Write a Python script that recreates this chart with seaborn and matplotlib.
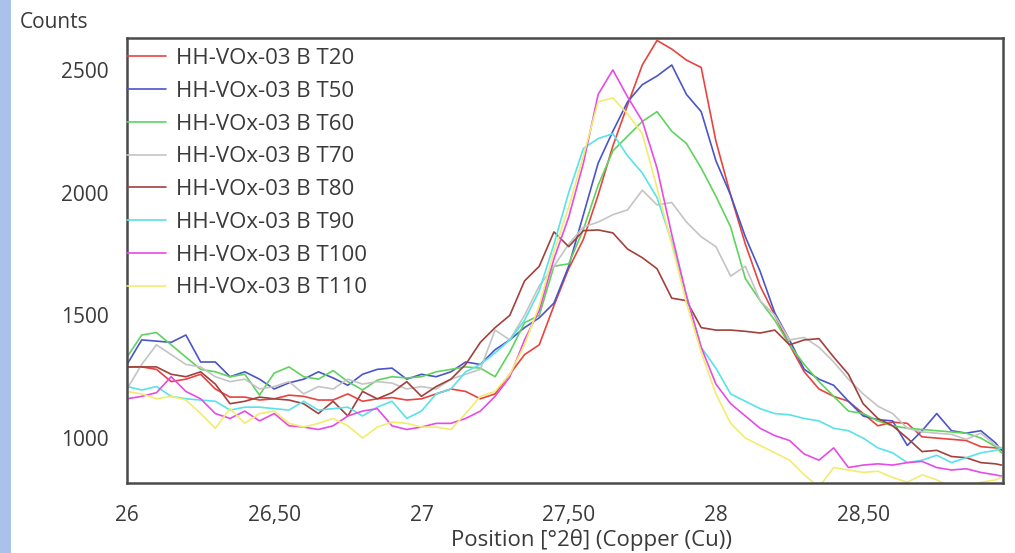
import numpy as np
import pandas as pd
import matplotlib
matplotlib.use('Agg')
import matplotlib.pyplot as plt
import seaborn as sns
from matplotlib.patches import Rectangle

# DATA
position = [26.00, 26.05, 26.10, 26.15, 26.20, 26.25, 26.30, 26.35, 26.40, 26.45,
            26.50, 26.55, 26.60, 26.65, 26.70, 26.75, 26.80, 26.85, 26.90, 26.95,
            27.00, 27.05, 27.10, 27.15, 27.20, 27.25, 27.30, 27.35, 27.40, 27.45,
            27.50, 27.55, 27.60, 27.65, 27.70, 27.75, 27.80, 27.85, 27.90, 27.95,
            28.00, 28.05, 28.10, 28.15, 28.20, 28.25, 28.30, 28.35, 28.40, 28.45,
            28.50, 28.55, 28.60, 28.65, 28.70, 28.75, 28.80, 28.85, 28.90, 28.95,
            28.97]

t20 = [1290, 1290, 1280, 1230, 1240, 1260, 1200, 1167, 1167, 1155,
       1160, 1175, 1170, 1155, 1155, 1180, 1150, 1160, 1165, 1155,
       1160, 1180, 1200, 1190, 1160, 1180, 1260, 1340, 1380, 1540,
       1690, 1810, 1990, 2190, 2357, 2520, 2620, 2585, 2540, 2510,
       2210, 1990, 1790, 1620, 1500, 1380, 1270, 1200, 1170, 1150,
       1100, 1050, 1065, 1060, 1005, 1000, 995, 990, 965, 960,
       955]
t50 = [1300, 1400, 1395, 1390, 1420, 1310, 1310, 1250, 1270, 1240,
       1200, 1225, 1240, 1270, 1245, 1215, 1260, 1280, 1285, 1240,
       1260, 1250, 1270, 1310, 1300, 1360, 1400, 1450, 1490, 1550,
       1700, 1910, 2120, 2250, 2370, 2440, 2475, 2520, 2400, 2330,
       2130, 1990, 1820, 1680, 1510, 1400, 1280, 1240, 1215, 1150,
       1090, 1075, 1070, 970, 1030, 1100, 1030, 1020, 1030, 980,
       950]
t60 = [1330, 1420, 1430, 1380, 1330, 1280, 1270, 1250, 1260, 1175,
       1265, 1290, 1250, 1240, 1275, 1230, 1196, 1236, 1250, 1245,
       1250, 1270, 1280, 1290, 1285, 1250, 1350, 1470, 1500, 1700,
       1710, 1850, 2030, 2170, 2230, 2290, 2330, 2250, 2200, 2100,
       1985, 1860, 1650, 1560, 1480, 1380, 1300, 1230, 1170, 1110,
       1100, 1070, 1050, 1040, 1035, 1030, 1025, 1020, 1000, 965,
       940]
t70 = [1200, 1300, 1380, 1340, 1300, 1290, 1250, 1230, 1240, 1200,
       1210, 1230, 1180, 1210, 1200, 1240, 1220, 1230, 1224, 1200,
       1210, 1200, 1240, 1260, 1280, 1440, 1400, 1500, 1620, 1700,
       1790, 1860, 1880, 1910, 1930, 2010, 1950, 1960, 1880, 1820,
       1780, 1660, 1700, 1560, 1500, 1400, 1410, 1370, 1310, 1240,
       1180, 1130, 1100, 1040, 1025, 1020, 1015, 995, 1020, 970,
       960]
t80 = [1290, 1290, 1290, 1260, 1250, 1270, 1220, 1140, 1150, 1167,
       1160, 1155, 1140, 1100, 1150, 1090, 1190, 1160, 1185, 1230,
       1170, 1210, 1240, 1300, 1390, 1450, 1500, 1640, 1700, 1840,
       1780, 1845, 1848, 1836, 1770, 1735, 1690, 1570, 1560, 1450,
       1440, 1440, 1435, 1428, 1440, 1380, 1400, 1405, 1330, 1260,
       1140, 1080, 1050, 1000, 945, 950, 925, 920, 900, 895,
       890]
t90 = [1210, 1196, 1210, 1170, 1160, 1155, 1150, 1114, 1126, 1126,
       1120, 1114, 1150, 1114, 1120, 1126, 1090, 1126, 1150, 1080,
       1110, 1180, 1200, 1270, 1300, 1347, 1400, 1480, 1600, 1790,
       2000, 2180, 2220, 2240, 2150, 2080, 1980, 1800, 1580, 1370,
       1285, 1180, 1150, 1120, 1100, 1095, 1080, 1070, 1040, 1030,
       1000, 960, 940, 900, 910, 930, 900, 920, 940, 950,
       960]
t100 = [1160, 1170, 1185, 1250, 1190, 1160, 1100, 1080, 1110, 1070,
        1100, 1050, 1045, 1035, 1050, 1090, 1110, 1120, 1050, 1035,
        1045, 1060, 1060, 1080, 1110, 1170, 1249, 1400, 1520, 1730,
        1900, 2120, 2400, 2500, 2390, 2292, 2100, 1830, 1580, 1370,
        1220, 1140, 1090, 1040, 1010, 990, 935, 910, 960, 880,
        890, 895, 890, 900, 905, 880, 870, 875, 860, 850,
        845]
t110 = [1190, 1180, 1160, 1170, 1155, 1100, 1040, 1120, 1060, 1100,
        1110, 1060, 1045, 1060, 1080, 1050, 1000, 1045, 1065, 1060,
        1045, 1045, 1035, 1100, 1170, 1190, 1260, 1380, 1540, 1760,
        1940, 2150, 2370, 2386, 2320, 2240, 2020, 1790, 1550, 1350,
        1180, 1060, 1000, 970, 940, 910, 850, 800, 880, 870,
        860, 865, 840, 820, 850, 830, 800, 790, 820, 830,
        840]

series_names = ['HH-VOx-03 B T20', 'HH-VOx-03 B T50', 'HH-VOx-03 B T60',
                'HH-VOx-03 B T70', 'HH-VOx-03 B T80', 'HH-VOx-03 B T90',
                'HH-VOx-03 B T100', 'HH-VOx-03 B T110']
series_values = [t20, t50, t60, t70, t80, t90, t100, t110]
series_colors = ['#e8433f', '#4a55c8', '#5fd35f', '#c4c4c4',
                 '#a2403c', '#58e2ea', '#e64be6', '#f2ec6e']

xticks = [26, 26.5, 27, 27.5, 28, 28.5]
xtick_labels = ['26', '26,50', '27', '27,50', '28', '28,50']
yticks = [1000, 1500, 2000, 2500]

# long-form table for seaborn
rows = []
for name, vals in zip(series_names, series_values):
    for p, v in zip(position, vals):
        rows.append((name, p, v))
df = pd.DataFrame(rows, columns=['sample', 'pos', 'counts'])

sns.set_style('white')
plt.rcParams['font.family'] = ['Open Sans', 'DejaVu Sans']
txt = '#3a3a3a'

fig = plt.figure(figsize=(10.15, 5.53), dpi=100)
ax = fig.add_axes([127 / 1015, 1 - 483 / 553, 876 / 1015, 445 / 553])

# light blue strip on the left edge
fig.patches.append(Rectangle((0, 0), 11 / 1015, 1, transform=fig.transFigure,
                             facecolor='#aac1e9', edgecolor='none', zorder=0))

sns.lineplot(data=df, x='pos', y='counts', hue='sample', hue_order=series_names,
             palette=dict(zip(series_names, series_colors)), estimator=None,
             linewidth=1.2, ax=ax)

ax.set_xlim(26, 28.975)
ax.set_ylim(817, 2630)
ax.set_xticks(xticks)
ax.set_xticklabels(xtick_labels)
ax.set_yticks(yticks)
ax.tick_params(axis='both', direction='out', width=1.2, colors='#444444',
               labelsize=15, labelcolor=txt)
ax.tick_params(axis='x', length=7, pad=9)
ax.tick_params(axis='y', length=5, pad=8)
for sp in ax.spines.values():
    sp.set_color('#4a4a4a')
    sp.set_linewidth(1.8)

ax.set_xlabel('Position [°2θ] (Copper (Cu))', fontsize=16, color=txt, va='center')
ax.xaxis.set_label_coords(0.53, -57 / 445)
ax.set_ylabel('')
fig.text(20 / 1015, 1 - 22 / 553, 'Counts', fontsize=15, color=txt, va='center', ha='left')

leg = ax.legend(loc='upper left', bbox_to_anchor=(0, 1 - 10 / 445), frameon=False,
                fontsize=16, handlelength=1.75, handletextpad=0.45, labelspacing=0.53,
                borderpad=0, borderaxespad=0)
for t in leg.get_texts():
    t.set_color(txt)

fig.savefig('out.png', dpi=100)
